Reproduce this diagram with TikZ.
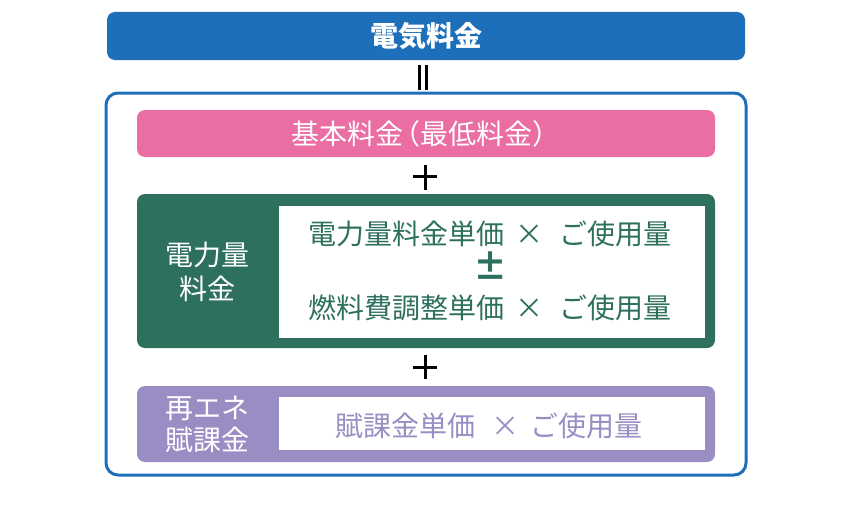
\documentclass[tikz,border=0pt]{standalone}
\usepackage{fontspec}
\setmainfont{Noto Sans CJK JP}
\definecolor{blueC}{HTML}{1E6FB9}
\definecolor{pinkC}{HTML}{EA6DA4}
\definecolor{greenC}{HTML}{2E705E}
\definecolor{purpleC}{HTML}{9A8DC3}
\tikzset{
  bar/.style={rounded corners=8pt, inner sep=0pt, text=white},
  inbox/.style={fill=white, inner sep=0pt},
  big/.style={font=\fontsize{28}{32}\selectfont, inner sep=0pt},
  lbl/.style={align=center, text=white, inner sep=0pt},
  sym/.style={line width=3pt, black},
}
\begin{document}
\begin{tikzpicture}[x=1pt,y=-1pt]
\useasboundingbox (0,0) rectangle (850,519);
% title
\node[bar, fill=blueC, minimum width=638pt, minimum height=48pt, font=\bfseries\fontsize{28}{32}\selectfont] (title) at (426,36) {電気料金};
% equals
\coordinate (eqA) at (419.5,65);
\coordinate (eqB) at (419.5,90);
\coordinate (eqC) at (426.5,65);
\coordinate (eqD) at (426.5,90);
\draw[sym] (eqA) -- (eqB);
\draw[sym] (eqC) -- (eqD);
% outer frame
\node[draw=blueC, line width=3pt, rounded corners=12pt, minimum width=640pt, minimum height=382pt, inner sep=0pt] (outer) at (426,284) {};
% basic charge
\node[bar, fill=pinkC, minimum width=578pt, minimum height=47pt, big, text=white] (basic) at (426,133.5) {基本料金\hspace{-0.4em}（最低料金）\hspace{-0.5em}};
% plus 1
\coordinate (p1l) at (413,176);
\coordinate (p1r) at (437,176);
\coordinate (p1t) at (425,165);
\coordinate (p1b) at (425,190);
\draw[sym] (p1l) -- (p1r);
\draw[sym] (p1t) -- (p1b);
% energy charge
\node[bar, fill=greenC, minimum width=578pt, minimum height=154pt] (energy) at (426,271) {};
\node[inbox, minimum width=426pt, minimum height=132pt] (energyIn) at (492,271.5) {};
\node[lbl, font=\fontsize{28}{34}\selectfont] (energyLbl) at (207,272) {電力量\\料金};
\node[big, text=greenC] (eline1) at (490,234) {電力量料金単価\hspace{0.4em}×\hspace{0.55em}ご使用量};
\node[inner sep=0pt, text=greenC, font=\bfseries\fontsize{34}{36}\selectfont] (pm) at (490,266) {±};
\node[big, text=greenC] (eline2) at (490,307.5) {燃料費調整単価\hspace{0.4em}×\hspace{0.55em}ご使用量};
% plus 2
\coordinate (p2l) at (413,367);
\coordinate (p2r) at (437,367);
\coordinate (p2t) at (425,355);
\coordinate (p2b) at (425,379);
\draw[sym] (p2l) -- (p2r);
\draw[sym] (p2t) -- (p2b);
% renewable levy
\node[bar, fill=purpleC, minimum width=578pt, minimum height=76pt] (levy) at (426,424) {};
\node[inbox, minimum width=426pt, minimum height=53pt] (levyIn) at (492,423.5) {};
\node[lbl, font=\fontsize{28}{32}\selectfont] (levyLbl) at (207,424) {再エネ\\賦課金};
\node[big, text=purpleC] (lline) at (489,425.5) {賦課金単価\hspace{0.55em}×\hspace{0.4em}ご使用量};
\end{tikzpicture}
\end{document}
